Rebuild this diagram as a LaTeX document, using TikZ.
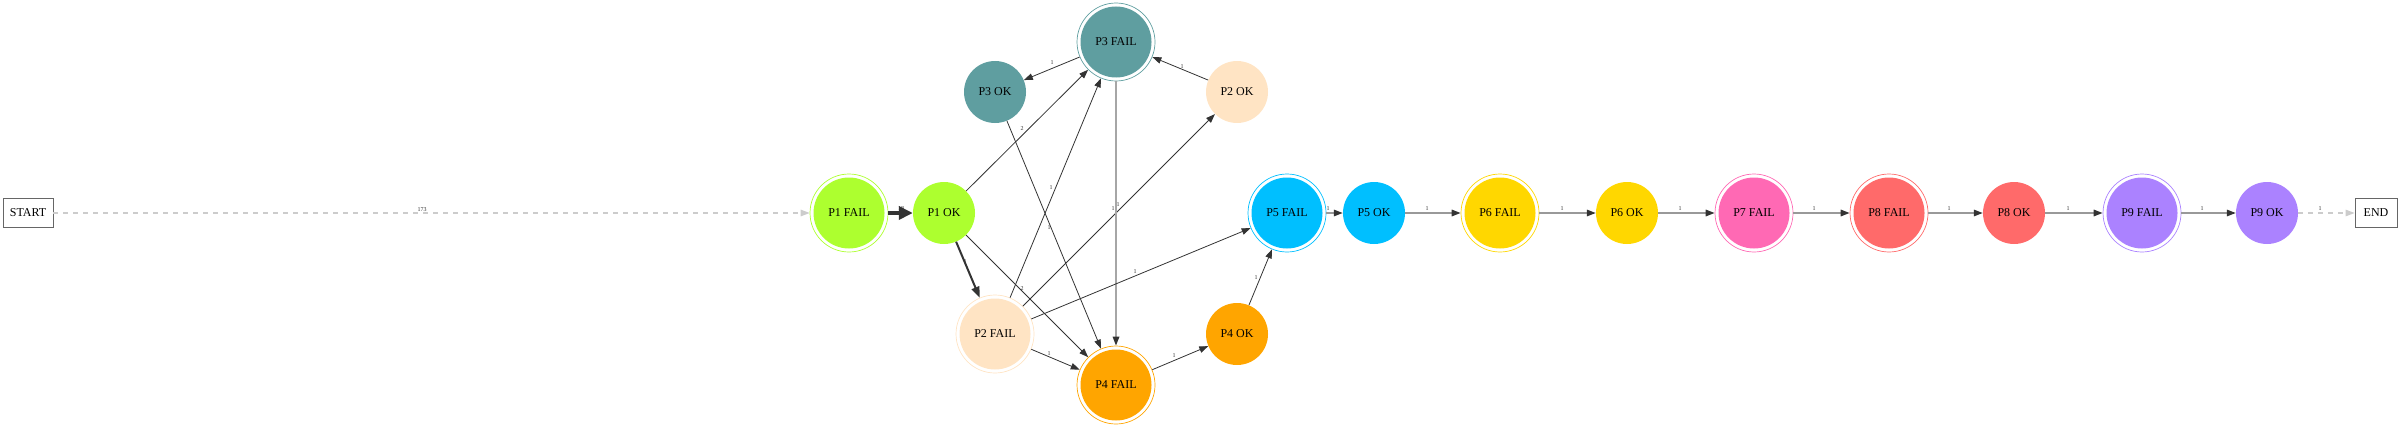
\documentclass[tikz,border=0pt]{standalone}
\usepackage{fontspec}
\setmainfont{Liberation Serif}
\usetikzlibrary{arrows.meta}
\definecolor{cP1}{HTML}{ADFF2F}
\definecolor{cP2}{HTML}{FFE4C4}
\definecolor{cP3}{HTML}{5F9EA0}
\definecolor{cP4}{HTML}{FFA500}
\definecolor{cP5}{HTML}{00BFFF}
\definecolor{cP6}{HTML}{FFD700}
\definecolor{cP7}{HTML}{FF69B4}
\definecolor{cP8}{HTML}{FF6A6A}
\definecolor{cP9}{HTML}{AB82FF}
\definecolor{edk}{HTML}{333333}
\definecolor{egr}{HTML}{999999}
\definecolor{elt}{HTML}{CCCCCC}
\begin{document}
\begin{tikzpicture}[x=1pt,y=-1pt,
  every node/.style={font=\fontsize{12}{14}\selectfont},
  failnode/.style={circle, draw=#1, line width=0.7pt, minimum size=78pt, inner sep=0pt,
    path picture={\fill[#1] (path picture bounding box.center) circle (35.5pt);}},
  oknode/.style={circle, fill=#1, minimum size=62pt, inner sep=0pt},
  termbox/.style={draw=black!60, line width=0.8pt, minimum height=29pt, inner sep=3pt},
  lbl/.style={font=\fontsize{6}{7}\selectfont, text=black!80, inner sep=0pt},
  dk/.style={draw=edk, line width=0.8pt, -{Triangle[length=9pt,width=6.5pt]}},
  gr/.style={draw=egr, line width=1.6pt, -{Triangle[length=9pt,width=6.5pt,color=edk]}},
  lt/.style={draw=elt, line width=1.2pt, dash pattern=on 5pt off 5pt, -{Triangle[length=9pt,width=6.5pt]}}
]
\useasboundingbox (0,0) rectangle (2400,428);
% nodes
\node[termbox, minimum width=50pt] (start) at (28,213) {START};
\node[failnode=cP1] (p1f) at (849,213) {P1 FAIL};
\node[oknode=cP1] (p1o) at (944,213) {P1 OK};
\node[failnode=cP3] (p3f) at (1116,42) {P3 FAIL};
\node[oknode=cP3] (p3o) at (995,92) {P3 OK};
\node[oknode=cP2] (p2o) at (1237,92) {P2 OK};
\node[failnode=cP2] (p2f) at (995,334) {P2 FAIL};
\node[failnode=cP4] (p4f) at (1116,385) {P4 FAIL};
\node[oknode=cP4] (p4o) at (1237,334) {P4 OK};
\node[failnode=cP5] (p5f) at (1287,213) {P5 FAIL};
\node[oknode=cP5] (p5o) at (1374,213) {P5 OK};
\node[failnode=cP6] (p6f) at (1500,213) {P6 FAIL};
\node[oknode=cP6] (p6o) at (1627,213) {P6 OK};
\node[failnode=cP7] (p7f) at (1754,213) {P7 FAIL};
\node[failnode=cP8] (p8f) at (1889,213) {P8 FAIL};
\node[oknode=cP8] (p8o) at (2014,213) {P8 OK};
\node[failnode=cP9] (p9f) at (2142,213) {P9 FAIL};
\node[oknode=cP9] (p9o) at (2267,213) {P9 OK};
\node[termbox, minimum width=42pt] (end) at (2376,213) {END};
% edges
\draw[lt] (start) -- (p1f);
\node[lbl] (l0) at (422,210) {173};
\node[lbl] (l1) at (901,209) {18};
\draw[draw=edk, line width=4pt, -{Triangle[length=14pt,width=13pt]}] (p1f) -- (p1o);
\draw[draw=edk, line width=2pt, -{Triangle[length=11pt,width=8pt]}] (p1o) -- (p2f);
\node[lbl] (l2) at (965,262) {1};
\draw[dk] (p1o) -- (p3f);
\node[lbl] (l3) at (1022,129) {2};
\draw[dk] (p1o) -- (p4f);
\node[lbl] (l4) at (1022,289) {2};
\draw[dk] (p3f) -- (p3o);
\node[lbl] (l5) at (1052,63) {1};
\draw[dk] (p2o) -- (p3f);
\node[lbl] (l6) at (1182,67) {1};
\draw[dk] (p3o) -- (p4f);
\node[lbl] (l7) at (1049,228) {1};
\draw[dk] (p2f) -- (p3f);
\node[lbl] (l8) at (1051,188) {1};
\draw[dk] (p2f) -- (p2o);
\node[lbl] (l9) at (1113,209) {1};
\draw[draw=black!35, line width=1.6pt, -{Triangle[length=9pt,width=6.5pt,color=edk]}] (p3f) -- (p4f);
\node[lbl] (l10) at (1118,205) {1};
\draw[dk] (p2f) -- (p5f);
\node[lbl] (l11) at (1135,272) {1};
\draw[dk] (p2f) -- (p4f);
\node[lbl] (l12) at (1049,354) {1};
\draw[dk] (p4f) -- (p4o);
\node[lbl] (l13) at (1174,356) {1};
\draw[dk] (p4o) -- (p5f);
\node[lbl] (l14) at (1256,278) {1};
\draw[gr] (p5f) -- (p5o);
\node[lbl] (l15) at (1328,209) {1};
\draw[gr] (p5o) -- (p6f);
\node[lbl] (l16) at (1427,209) {1};
\draw[gr] (p6f) -- (p6o);
\node[lbl] (l17) at (1562,209) {1};
\draw[gr] (p6o) -- (p7f);
\node[lbl] (l18) at (1680,209) {1};
\draw[gr] (p7f) -- (p8f);
\node[lbl] (l19) at (1814,209) {1};
\draw[gr] (p8f) -- (p8o);
\node[lbl] (l20) at (1949,209) {1};
\draw[gr] (p8o) -- (p9f);
\node[lbl] (l21) at (2068,209) {1};
\draw[gr] (p9f) -- (p9o);
\node[lbl] (l22) at (2202,209) {1};
\draw[lt] (p9o) -- (end);
\node[lbl] (l23) at (2320,209) {1};
\end{tikzpicture}
\end{document}
